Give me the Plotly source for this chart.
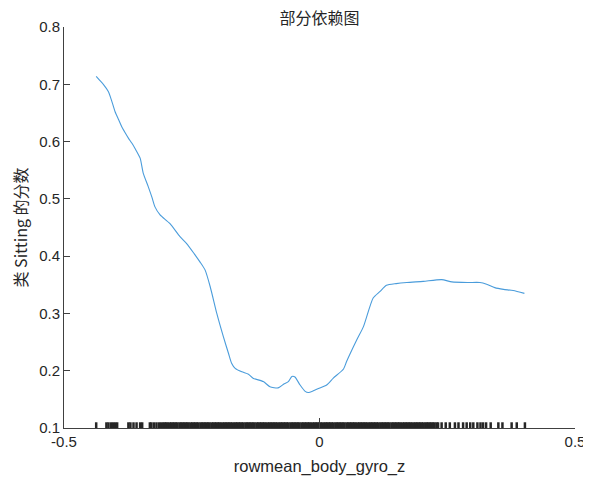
import plotly.graph_objects as go

# Partial dependence curve
pd_x = [-0.437, -0.430, -0.423, -0.413, -0.407, -0.400, -0.393, -0.387, -0.380, -0.374,
        -0.367, -0.361, -0.351, -0.345, -0.335, -0.328, -0.322, -0.312, -0.293, -0.273,
        -0.260, -0.245, -0.234, -0.224, -0.214, -0.201, -0.188, -0.178, -0.172, -0.165,
        -0.152, -0.139, -0.130, -0.110, -0.097, -0.081, -0.071, -0.061, -0.054, -0.048,
        -0.038, -0.028, -0.022, -0.012, -0.002, 0.014, 0.027, 0.047, 0.053, 0.073,
        0.086, 0.105, 0.118, 0.131, 0.150, 0.171, 0.203, 0.239, 0.259, 0.290,
        0.314, 0.327, 0.343, 0.360, 0.379, 0.401]
pd_y = [0.714, 0.707, 0.700, 0.687, 0.672, 0.652, 0.638, 0.626, 0.615, 0.606,
        0.597, 0.588, 0.571, 0.545, 0.521, 0.503, 0.486, 0.472, 0.457, 0.434,
        0.422, 0.404, 0.390, 0.376, 0.347, 0.300, 0.259, 0.230, 0.213, 0.204,
        0.198, 0.194, 0.187, 0.181, 0.172, 0.170, 0.176, 0.181, 0.190, 0.189,
        0.175, 0.164, 0.162, 0.165, 0.169, 0.175, 0.187, 0.203, 0.216, 0.254,
        0.277, 0.327, 0.338, 0.349, 0.352, 0.354, 0.356, 0.359, 0.355, 0.354,
        0.354, 0.351, 0.345, 0.342, 0.340, 0.335]

# Observed predictor values (rug)
rug_x = [-0.437, -0.417, -0.413, -0.408, -0.404, -0.400, -0.396, -0.374, -0.370, -0.364,
         -0.358, -0.351, -0.347, -0.332, -0.329, -0.324, -0.319, -0.314, -0.310,
         -0.306, -0.303, -0.300, -0.297, -0.293, -0.290, -0.287, -0.284, -0.281, -0.278,
         -0.274, -0.271, -0.268, -0.265, -0.262, -0.259, -0.256, -0.252, -0.249, -0.246,
         -0.243, -0.240, -0.237, -0.233, -0.230, -0.227, -0.224, -0.221, -0.218, -0.215,
         -0.211, -0.208, -0.205, -0.202, -0.199, -0.196, -0.193, -0.189, -0.186, -0.183,
         -0.180, -0.177, -0.174, -0.171, -0.167, -0.164, -0.161, -0.158, -0.155, -0.152,
         -0.149, -0.145, -0.142, -0.139, -0.136, -0.133, -0.130, -0.127, -0.123, -0.120,
         -0.117, -0.114, -0.111, -0.108, -0.105, -0.101, -0.098, -0.095, -0.092, -0.089,
         -0.086, -0.083, -0.079, -0.076, -0.073, -0.070, -0.067, -0.064, -0.061, -0.057,
         -0.054, -0.051, -0.048, -0.045, -0.042, -0.039, -0.035, -0.032, -0.029, -0.026,
         -0.023, -0.020, -0.017, -0.013, -0.010, -0.007, -0.004, -0.001, 0.002, 0.005,
         0.009, 0.012, 0.015, 0.018, 0.021, 0.024, 0.027, 0.031, 0.034, 0.037,
         0.040, 0.043, 0.046, 0.049, 0.053, 0.056, 0.059, 0.062, 0.065, 0.068,
         0.071, 0.075, 0.078, 0.081, 0.084, 0.087, 0.090, 0.093, 0.097, 0.100,
         0.103, 0.106, 0.109, 0.112, 0.115, 0.119, 0.122, 0.125, 0.128, 0.131,
         0.134, 0.137, 0.141, 0.144, 0.147, 0.150, 0.153, 0.156, 0.159, 0.163,
         0.166, 0.169, 0.172, 0.175, 0.178, 0.181, 0.185, 0.188, 0.191, 0.194,
         0.197, 0.200, 0.203, 0.207, 0.210, 0.213, 0.216, 0.219, 0.222, 0.225, 0.229,
         0.232, 0.239, 0.247, 0.255, 0.265, 0.272, 0.281, 0.288, 0.295, 0.301,
         0.309, 0.315, 0.320, 0.326, 0.335, 0.350, 0.358, 0.376, 0.386, 0.402]

rug_base = 0.1
rug_top = 0.11

x_ticks = [-0.5, 0, 0.5]
x_ticklabels = ["-0.5", "0", "0.5"]
y_ticks = [0.1, 0.2, 0.3, 0.4, 0.5, 0.6, 0.7, 0.8]
y_ticklabels = ["0.1", "0.2", "0.3", "0.4", "0.5", "0.6", "0.7", "0.8"]

title_text = "部分依赖图"
x_label = "rowmean_body_gyro_z"
y_label = "类 Sitting 的分数"

FONT = "Liberation Sans, Arial, Noto Sans CJK SC, sans-serif"
TXT = "#262626"
AX = "#404040"

rx, ry = [], []
for v in rug_x:
    rx += [v, v, None]
    ry += [rug_base, rug_top, None]

W, H = 583, 474   # page body has an 8px margin

fig = go.Figure()
fig.add_trace(go.Scatter(x=rx, y=ry, mode="lines",
                         line=dict(color="#262626", width=2.5),
                         hoverinfo="skip", showlegend=False))
fig.add_trace(go.Scatter(x=pd_x, y=pd_y, mode="lines",
                         line=dict(color="#4a9cdb", width=1.1, shape="spline", smoothing=0.6),
                         showlegend=False))

fig.update_layout(
    width=W, height=H,
    margin=dict(l=56, r=16, t=19, b=54),
    paper_bgcolor="white", plot_bgcolor="white",
    font=dict(family=FONT, color=TXT, size=14),
    title=dict(text=title_text, x=0.5, xref="paper", y=1 - 10 / H, yref="container",
               yanchor="middle", pad=dict(t=0, b=0),
               font=dict(family="Noto Sans CJK SC", size=16, color=TXT)),
    xaxis=dict(range=[-0.5, 0.5], tickvals=x_ticks, ticktext=x_ticklabels,
               showgrid=False, zeroline=False, showline=True, linecolor=AX, linewidth=1,
               ticks="inside", ticklen=10, tickcolor=AX, tickwidth=1, automargin=False,
               ticklabeloverflow="allow",
               tickfont=dict(size=15, color=TXT),
               title=dict(text=x_label, font=dict(size=16.5, color=TXT), standoff=11)),
    yaxis=dict(range=[0.1, 0.8], tickvals=y_ticks, ticktext=y_ticklabels,
               showgrid=False, zeroline=False, showline=True, linecolor=AX, linewidth=1,
               ticks="inside", ticklen=6, tickcolor=AX, tickwidth=1, automargin=False,
               ticklabeloverflow="allow",
               tickfont=dict(size=15, color=TXT),
               title=dict(text=y_label, font=dict(size=16, color=TXT,
                                                  family="Noto Sans CJK SC, Liberation Sans"),
                          standoff=10)),
)

fig.write_html("out.html")
